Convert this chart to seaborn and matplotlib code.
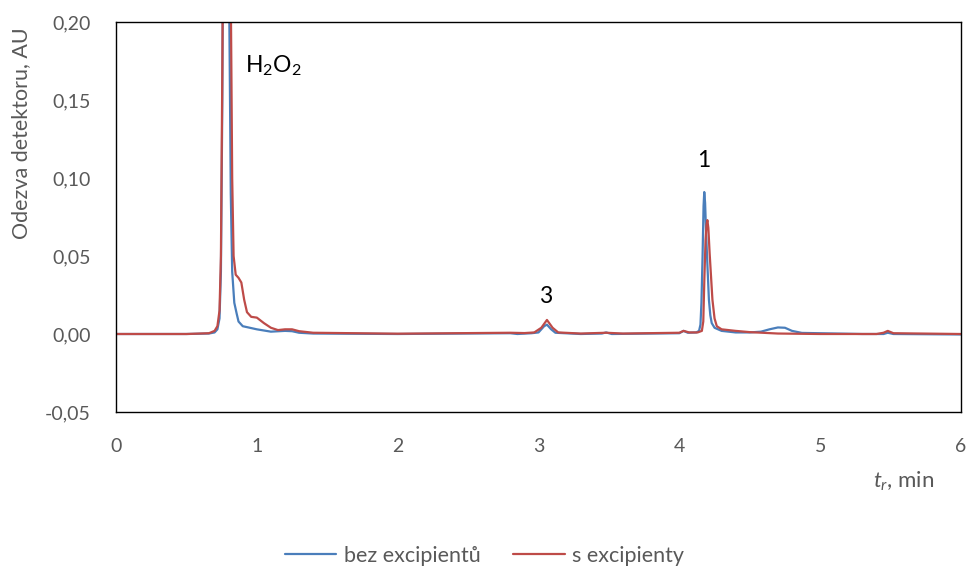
import matplotlib
matplotlib.use("Agg")
import matplotlib.pyplot as plt
import seaborn as sns
import pandas as pd

# ---- data ----
bez_x = [0, 0.5, 0.66, 0.70, 0.72, 0.735, 0.745, 0.755, 0.765, 0.78, 0.795, 0.805, 0.815, 0.825,
         0.84, 0.857, 0.87, 0.9, 0.95, 1.0, 1.1, 1.2, 1.25, 1.3, 1.4, 2.0, 2.8, 2.85, 2.95, 3.0,
         3.04, 3.06, 3.09, 3.12, 3.3, 3.45, 3.48, 3.52, 4.0, 4.03, 4.06, 4.12, 4.14, 4.15, 4.157,
         4.165, 4.172, 4.177, 4.183, 4.19, 4.199, 4.21, 4.22, 4.23, 4.25, 4.3, 4.4, 4.5, 4.58,
         4.64, 4.7, 4.75, 4.8, 4.87, 5.3, 5.45, 5.48, 5.52, 6.0]
bez_y = [0, 0, 0.0003, 0.001, 0.003, 0.01, 0.04, 0.15, 0.35, 0.55, 0.4, 0.2, 0.09, 0.04,
         0.02, 0.013, 0.008, 0.005, 0.004, 0.003, 0.0015, 0.002, 0.0018, 0.0008, 0.0003, 0.0,
         0.0005, 0.0, 0.0005, 0.001, 0.005, 0.006, 0.003, 0.0008, 0.0, 0.0003, 0.001, 0.0,
         0.0005, 0.002, 0.0008, 0.001, 0.002, 0.006, 0.02, 0.05, 0.082, 0.091, 0.084, 0.065,
         0.045, 0.022, 0.012, 0.007, 0.004, 0.002, 0.001, 0.001, 0.0015, 0.003, 0.0042, 0.004,
         0.002, 0.0007, 0.0, 0.0, 0.0008, 0.0, -0.0003]

s_x = [0, 0.5, 0.66, 0.70, 0.72, 0.735, 0.745, 0.755, 0.77, 0.79, 0.805, 0.815, 0.825, 0.835,
       0.85, 0.87, 0.89, 0.91, 0.93, 0.96, 1.0, 1.05, 1.1, 1.15, 1.2, 1.25, 1.3, 1.4, 2.0, 2.8,
       2.9, 2.97, 3.02, 3.06, 3.1, 3.14, 3.3, 3.48, 3.6, 4.0, 4.03, 4.07, 4.13, 4.16, 4.17,
       4.178, 4.186, 4.193, 4.199, 4.206, 4.215, 4.225, 4.235, 4.25, 4.266, 4.3, 4.4, 4.5, 4.7,
       5.0, 5.4, 5.45, 5.48, 5.52, 6.0]
s_y = [0, 0, 0.0005, 0.002, 0.005, 0.015, 0.05, 0.17, 0.4, 0.6, 0.4, 0.22, 0.1, 0.05,
       0.038, 0.036, 0.033, 0.022, 0.014, 0.011, 0.0105, 0.007, 0.004, 0.0025, 0.003, 0.003,
       0.0018, 0.0008, 0.0002, 0.0008, 0.0006, 0.001, 0.004, 0.009, 0.004, 0.001, 0.0003,
       0.0008, 0.0003, 0.0008, 0.002, 0.001, 0.001, 0.002, 0.008, 0.036, 0.06, 0.07, 0.073,
       0.068, 0.052, 0.037, 0.022, 0.01, 0.005, 0.003, 0.002, 0.0012, 0.0003, 0.0, 0.0,
       0.0008, 0.002, 0.0005, 0.0]

series_names = ["bez excipientů", "s excipienty"]
x_ticks = [0, 1, 2, 3, 4, 5, 6]
x_tick_labels = ["0", "1", "2", "3", "4", "5", "6"]
y_ticks = [-0.05, 0.0, 0.05, 0.10, 0.15, 0.20]
y_tick_labels = ["-0,05", "0,00", "0,05", "0,10", "0,15", "0,20"]
peak_labels = ["H$_2$O$_2$", "3", "1"]
peak_label_x = [1.12, 3.05, 4.17]
peak_label_y = [0.172, 0.024, 0.111]

df = pd.concat([
    pd.DataFrame({"t": bez_x, "y": bez_y, "serie": series_names[0]}),
    pd.DataFrame({"t": s_x, "y": s_y, "serie": series_names[1]}),
], ignore_index=True)

sns.set_style("white")
plt.rcParams["font.family"] = ["Lato", "DejaVu Sans"]
plt.rcParams["mathtext.fontset"] = "custom"
plt.rcParams["mathtext.rm"] = "Lato"
plt.rcParams["mathtext.it"] = "Lato:italic"

fig = plt.figure(figsize=(9.69, 5.68), dpi=100)
ax = fig.add_axes([116/969, 1 - 412/568, (961-116)/969, (412-22)/568])

sns.lineplot(data=df, x="t", y="y", hue="serie", sort=False, estimator=None,
             palette={series_names[0]: "#4a7ebb", series_names[1]: "#be4b48"},
             linewidth=1.6, ax=ax, legend=True)

ax.set_xlim(0, 6)
ax.set_ylim(-0.05, 0.20)
ax.set_xticks(x_ticks)
ax.set_xticklabels(x_tick_labels)
ax.set_yticks(y_ticks)
ax.set_yticklabels(y_tick_labels)
ax.tick_params(axis="both", length=0, labelsize=14, colors="#595959")
ax.tick_params(axis="x", pad=19)
ax.tick_params(axis="y", pad=18)
for sp in ax.spines.values():
    sp.set_visible(True)
    sp.set_color("black")
    sp.set_linewidth(1.0)
ax.set_xlabel("")
ax.set_ylabel("Odezva detektoru, AU", fontsize=15.5, color="#595959")
ax.yaxis.set_label_coords(-0.101, 0.715)

for lab, lx, ly in zip(peak_labels, peak_label_x, peak_label_y):
    ax.text(lx, ly, lab, fontsize=16.5, color="black", ha="center", va="center")

fig.text(904/969, 1 - 481/568, "$t_r$, min", fontsize=16, color="#595959",
         ha="center", va="center")

handles, labels = ax.get_legend_handles_labels()
ax.get_legend().remove()
fig.legend(handles, labels, loc="center", bbox_to_anchor=(0.5, 1 - 556/568), ncol=2,
           frameon=False, fontsize=15.5, handlelength=2.4, handletextpad=0.35,
           columnspacing=1.5, labelcolor="#595959")

fig.savefig("out.png", dpi=100)
